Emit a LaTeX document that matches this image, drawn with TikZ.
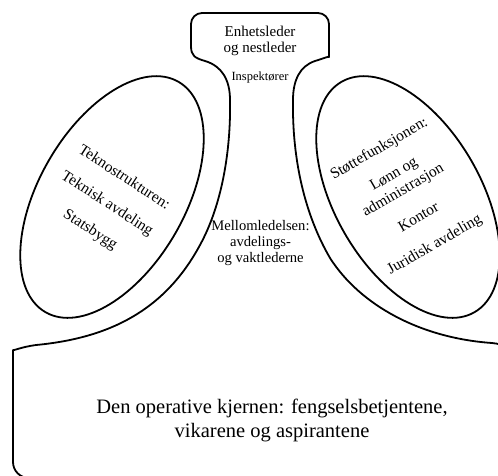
\documentclass[tikz,border=0pt]{standalone}
\usepackage{fontspec}
\setmainfont{Liberation Serif}

\begin{document}
\begin{tikzpicture}[x=1pt, y=-1pt,
		outline/.style={line width=1.8pt, line join=round},
		lbl/.style={align=center, inner sep=0pt}]
		\useasboundingbox (0,0) rectangle (498,475);
		\clip (0,0) rectangle (498,475);
		
		% Omriss: toppboks, midtlinje og kjerne
		\draw[outline] (191,46) [rounded corners=11pt] -- (191,13) -- (329,13) -- (329,46) [sharp corners]
			.. controls (329,56) and (325,58) .. (315,61)
			.. controls (300,66) and (293,80) .. (293,100)
			.. controls (292,160) and (305,215) .. (330,258)
			.. controls (360,305) and (420,338) .. (492,343)
			.. controls (505,344) and (512,350) .. (512,364)
			[rounded corners=16pt] -- (512,478) -- (13,478) -- (13,366) [sharp corners]
			.. controls (13,351) and (21,347) .. (36,345)
			.. controls (110,338) and (165,310) .. (200,245)
			.. controls (222,205) and (231,150) .. (230,100)
			.. controls (230,80) and (222,66) .. (205,61)
			.. controls (195,58) and (191,56) .. (191,46) -- cycle;
		
		% Teknostrukturen (venstre)
		\draw[outline, rotate around={60:(112,197)}] (112,197) ellipse (133 and 73);
		\node[lbl, rotate=-33, font=\fontsize{15.5}{18}\selectfont] (tekno) at (107,204)
			{Teknostrukturen:\\[13pt] Teknisk avdeling\\[13pt] Statsbygg};
		
		% Stottefunksjonen (hoyre)
		\draw[outline, rotate around={-60:(408,197)}] (408,197) ellipse (133 and 73);
		\node[lbl, rotate=30, font=\fontsize{15.5}{18.5}\selectfont] (stotte) at (407,197)
			{Støttefunksjonen:\\[11pt] Lønn og\\ administrasjon\\[13pt] Kontor\\[13pt] Juridisk avdeling};
		
		% Strategisk toppledelse og midtlinje
		\node[lbl, font=\fontsize{15}{15.5}\selectfont] (topp) at (260,41) {Enhetsleder\\ og nestleder};
		\node[lbl, font=\fontsize{12.5}{14}\selectfont] (insp) at (260,77) {Inspektører};
		\node[lbl, font=\fontsize{14.6}{16}\selectfont] (mellom) at (260.5,243)
			{Mellomledelsen:\\ avdelings-\\ og vaktlederne};
		
		% Den operative kjernen
		\node[lbl, font=\fontsize{20.5}{24}\selectfont] (kjerne) at (272,420)
			{Den operative kjernen: fengselsbetjentene,\\ vikarene og aspirantene};
	\end{tikzpicture}
\end{document}
